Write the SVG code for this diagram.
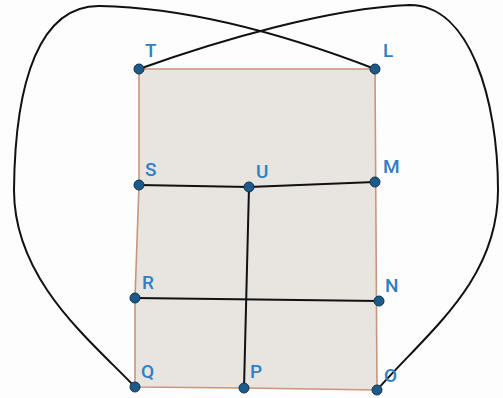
<svg xmlns="http://www.w3.org/2000/svg" width="503" height="398" viewBox="0 0 503 398">
<style>
.lbl{font-family:"Roboto","Liberation Sans",sans-serif;font-size:19px;font-weight:500;fill:#2f7fc4}
.dot{fill:#1d5a8a;stroke:#0e3350;stroke-width:1}
.ln{stroke:#111;stroke-width:2;fill:none}
</style>
<rect width="503" height="398" fill="#fdfdfd"/>
<g id="region">
<polygon points="139,69 375,69 377,390 244,388 135,387 135,298 139,185" fill="#e8e4e0" stroke="#c9957c" stroke-width="1.6"/>
</g>
<g id="connectors">
<path class="ln" d="M375,69 C300,40 200,8 100,6 C40,5 15,80 14,190 C14,280 90,340 135,387"/>
<path class="ln" d="M139,69 C220,40 330,8 410,5 C470,5 498,100 498,190 C498,280 430,330 377,390"/>
<path class="ln" d="M139,185 L249,187 L375,182"/>
<path class="ln" d="M249,187 L244,388"/>
<path class="ln" d="M135,298 L379,301"/>
</g>
<g id="T"><circle class="dot" cx="139" cy="69" r="5"/><text class="lbl" x="145" y="57">T</text></g>
<g id="L"><circle class="dot" cx="375" cy="69" r="5"/><text class="lbl" x="383" y="57">L</text></g>
<g id="S"><circle class="dot" cx="139" cy="185" r="5"/><text class="lbl" x="145" y="176">S</text></g>
<g id="U"><circle class="dot" cx="249" cy="187" r="5"/><text class="lbl" x="256" y="178">U</text></g>
<g id="M"><circle class="dot" cx="375" cy="182" r="5"/><text class="lbl" x="383" y="173">M</text></g>
<g id="R"><circle class="dot" cx="135" cy="298" r="5"/><text class="lbl" x="142" y="289">R</text></g>
<g id="N"><circle class="dot" cx="379" cy="301" r="5"/><text class="lbl" x="385" y="292">N</text></g>
<g id="Q"><circle class="dot" cx="135" cy="387" r="5"/><text class="lbl" x="141" y="378">Q</text></g>
<g id="P"><circle class="dot" cx="244" cy="388" r="5"/><text class="lbl" x="250" y="378">P</text></g>
<g id="O"><circle class="dot" cx="377" cy="390" r="5"/><text class="lbl" x="384" y="382">O</text></g>
</svg>
